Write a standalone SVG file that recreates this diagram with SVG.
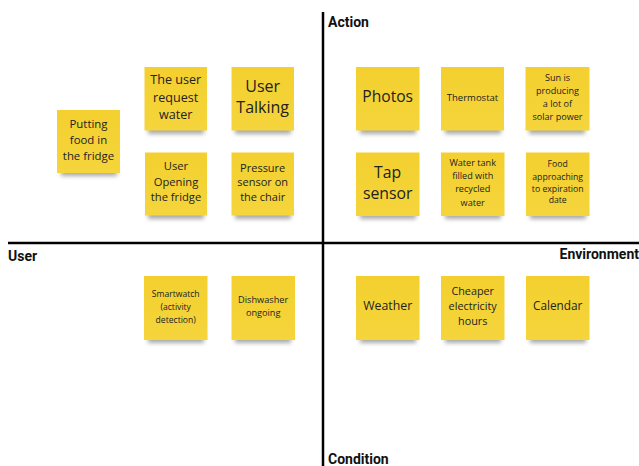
<svg xmlns="http://www.w3.org/2000/svg" width="639" height="466" viewBox="0 0 639 466">
  <defs>
    <linearGradient id="paper" x1="0" y1="0" x2="0" y2="1">
      <stop offset="0" stop-color="#F3D02F"/>
      <stop offset="1" stop-color="#F5D53C"/>
    </linearGradient>
    <filter id="shade" x="-20%" y="-50%" width="140%" height="200%">
      <feGaussianBlur stdDeviation="2"/>
    </filter>
    <style>
      .note { fill: url(#paper); }
      .shadow { fill: #555; opacity: 0.5; filter: url(#shade); }
      .t { font-family: "Open Sans", "Noto Sans", sans-serif; fill: #222; text-anchor: middle; }
      .axis { stroke: #000; stroke-width: 2.5; }
      .lbl { font-family: Roboto, "Liberation Sans", sans-serif; font-weight: bold; font-size: 14px; fill: #111; }
    </style>
  </defs>

  <!-- quadrant axes -->
  <g id="axes">
    <line class="axis" x1="323" y1="12" x2="323" y2="466"/>
    <line class="axis" x1="8" y1="243" x2="639" y2="243"/>
    <text class="lbl" x="328" y="26.5">Action</text>
    <text class="lbl" x="8" y="261">User</text>
    <text class="lbl" x="639" y="258.5" text-anchor="end" font-size="15">Environment</text>
    <text class="lbl" x="328" y="464">Condition</text>
  </g>

  <!-- sticky notes -->
  <g id="putting-food">
    <rect class="shadow" x="61" y="166" width="56" height="10"/>
    <rect class="note" x="57" y="110" width="63" height="63"/>
    <text class="t" font-size="11.4"><tspan x="88.5" y="127.5">Putting</tspan><tspan x="88.5" y="143.5">food in</tspan><tspan x="88.5" y="159.5">the fridge</tspan></text>
  </g>
  <g id="request-water">
    <rect class="shadow" x="148" y="124" width="56" height="10"/>
    <rect class="note" x="144.5" y="67" width="62.5" height="63.5"/>
    <text class="t" font-size="12.6"><tspan x="175.7" y="83.5">The user</tspan><tspan x="175.7" y="101.5">request</tspan><tspan x="175.7" y="118.5">water</tspan></text>
  </g>
  <g id="user-talking">
    <rect class="shadow" x="235" y="124" width="56" height="10"/>
    <rect class="note" x="231.5" y="67" width="62.5" height="63.5"/>
    <text class="t" font-size="16"><tspan x="262.7" y="91.5">User</tspan><tspan x="262.7" y="113">Talking</tspan></text>
  </g>
  <g id="user-opening">
    <rect class="shadow" x="148" y="209" width="56" height="10"/>
    <rect class="note" x="145" y="152.5" width="62" height="63"/>
    <text class="t" font-size="11.2"><tspan x="176" y="170">User</tspan><tspan x="176" y="185.8">Opening</tspan><tspan x="176" y="201">the fridge</tspan></text>
  </g>
  <g id="pressure-sensor">
    <rect class="shadow" x="235" y="209" width="56" height="10"/>
    <rect class="note" x="231.5" y="152.5" width="62.5" height="63"/>
    <text class="t" font-size="11"><tspan x="262.7" y="171.7">Pressure</tspan><tspan x="262.7" y="186.3">sensor on</tspan><tspan x="262.7" y="200.7">the chair</tspan></text>
  </g>

  <g id="photos">
    <rect class="shadow" x="360" y="124" width="56" height="10"/>
    <rect class="note" x="356" y="67" width="63.5" height="63.5"/>
    <text class="t" font-size="15.6"><tspan x="387.7" y="102">Photos</tspan></text>
  </g>
  <g id="thermostat">
    <rect class="shadow" x="445" y="124" width="56" height="10"/>
    <rect class="note" x="441" y="67" width="63" height="63.5"/>
    <text class="t" font-size="9.5"><tspan x="472.5" y="100.8">Thermostat</tspan></text>
  </g>
  <g id="sun">
    <rect class="shadow" x="529" y="124" width="56" height="10"/>
    <rect class="note" x="525.5" y="67" width="64" height="63.5"/>
    <text class="t" font-size="9.1"><tspan x="557.5" y="80.8">Sun is</tspan><tspan x="557.5" y="94.3">producing</tspan><tspan x="557.5" y="107.3">a lot of</tspan><tspan x="557.5" y="120.3">solar power</tspan></text>
  </g>
  <g id="tap-sensor">
    <rect class="shadow" x="360" y="209" width="56" height="10"/>
    <rect class="note" x="356" y="152.5" width="63.5" height="63.5"/>
    <text class="t" font-size="15.8"><tspan x="387.7" y="177.5">Tap</tspan><tspan x="387.7" y="199">sensor</tspan></text>
  </g>
  <g id="water-tank">
    <rect class="shadow" x="445" y="209" width="56" height="10"/>
    <rect class="note" x="441" y="152.5" width="63.5" height="63.5"/>
    <text class="t" font-size="9.1"><tspan x="472.7" y="166">Water tank</tspan><tspan x="472.7" y="179.3">filled with</tspan><tspan x="472.7" y="192.4">recycled</tspan><tspan x="472.7" y="205.6">water</tspan></text>
  </g>
  <g id="food-expiration">
    <rect class="shadow" x="530" y="209" width="56" height="10"/>
    <rect class="note" x="526" y="152.5" width="63.5" height="63.5"/>
    <text class="t" font-size="8.7"><tspan x="557.7" y="167.4">Food</tspan><tspan x="557.7" y="179.8">approaching</tspan><tspan x="557.7" y="192.1">to expiration</tspan><tspan x="557.7" y="203.4">date</tspan></text>
  </g>

  <g id="smartwatch">
    <rect class="shadow" x="148" y="333" width="56" height="10"/>
    <rect class="note" x="144" y="276" width="63.5" height="64"/>
    <text class="t" font-size="8.6"><tspan x="175.7" y="297.2">Smartwatch</tspan><tspan x="175.7" y="309.9">(activity</tspan><tspan x="175.7" y="322.5">detection)</tspan></text>
  </g>
  <g id="dishwasher">
    <rect class="shadow" x="235" y="333" width="56" height="10"/>
    <rect class="note" x="231.5" y="276" width="63.5" height="64"/>
    <text class="t" font-size="9.2"><tspan x="263.2" y="303.4">Dishwasher</tspan><tspan x="263.2" y="316">ongoing</tspan></text>
  </g>
  <g id="weather">
    <rect class="shadow" x="360" y="333" width="56" height="10"/>
    <rect class="note" x="356" y="276" width="63.5" height="64"/>
    <text class="t" font-size="12.3"><tspan x="387.7" y="310.3">Weather</tspan></text>
  </g>
  <g id="cheaper-electricity">
    <rect class="shadow" x="445" y="333" width="56" height="10"/>
    <rect class="note" x="441" y="276" width="63.5" height="64"/>
    <text class="t" font-size="10.8"><tspan x="472.7" y="294.6">Cheaper</tspan><tspan x="472.7" y="310">electricity</tspan><tspan x="472.7" y="325.3">hours</tspan></text>
  </g>
  <g id="calendar">
    <rect class="shadow" x="530" y="333" width="56" height="10"/>
    <rect class="note" x="526" y="276" width="63.5" height="64"/>
    <text class="t" font-size="11.8"><tspan x="557.7" y="310.2">Calendar</tspan></text>
  </g>
</svg>
